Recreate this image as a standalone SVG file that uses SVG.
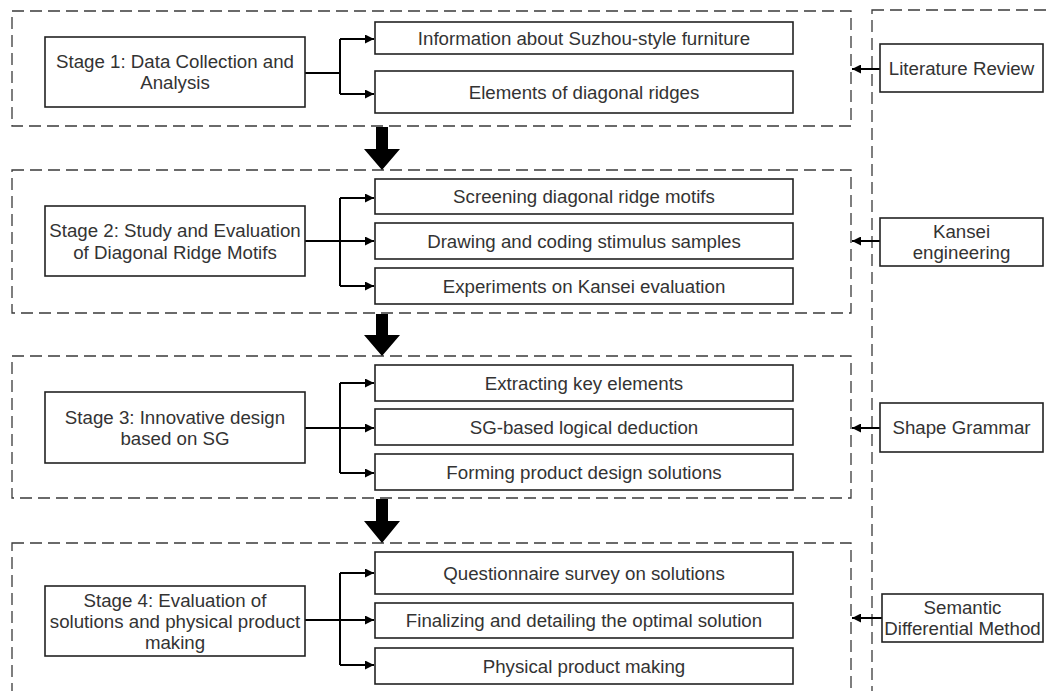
<svg xmlns="http://www.w3.org/2000/svg" width="1050" height="691" viewBox="0 0 1050 691">
<defs>
<style>
.dash{fill:none;stroke:#3a3a3a;stroke-width:1.3;stroke-dasharray:12 6}
.box{fill:#fff;stroke:#222;stroke-width:1.6}
.t{font-family:"Liberation Sans",Arial,sans-serif;font-size:18.7px;fill:#333;text-anchor:middle}
.ln{fill:none;stroke:#000;stroke-width:2}
.big{fill:#000}
</style>
<marker id="ah" viewBox="0 0 10 10" refX="10" refY="5" markerWidth="9" markerHeight="9" markerUnits="userSpaceOnUse" orient="auto">
<path d="M0,0 L10,5 L0,10 z" fill="#000"/>
</marker>
</defs>
<rect width="1050" height="691" fill="#fff"/>

<g id="frames">
<rect class="dash" x="12" y="11" width="839" height="115"/>
<rect class="dash" x="12" y="170" width="839" height="143"/>
<rect class="dash" x="12" y="356" width="839" height="142"/>
<rect class="dash" x="12" y="543" width="839" height="200"/>
<rect class="dash" x="872" y="10" width="300" height="800"/>
</g>

<g id="connectors">
<path class="ln" d="M305,73 H340 M340,39 V94 M340,39 H374" marker-end="url(#ah)"/>
<path class="ln" d="M340,94 H374" marker-end="url(#ah)"/>
<path class="ln" d="M305,241 H340 M340,198 V286 M340,198 H374" marker-end="url(#ah)"/>
<path class="ln" d="M340,241 H374" marker-end="url(#ah)"/>
<path class="ln" d="M340,286 H374" marker-end="url(#ah)"/>
<path class="ln" d="M305,428 H340 M340,383 V473 M340,383 H374" marker-end="url(#ah)"/>
<path class="ln" d="M340,428 H374" marker-end="url(#ah)"/>
<path class="ln" d="M340,473 H374" marker-end="url(#ah)"/>
<path class="ln" d="M305,620 H340 M340,573 V665 M340,573 H374" marker-end="url(#ah)"/>
<path class="ln" d="M340,620 H374" marker-end="url(#ah)"/>
<path class="ln" d="M340,665 H374" marker-end="url(#ah)"/>
<path class="ln" d="M880,69 H852" marker-end="url(#ah)"/>
<path class="ln" d="M880,241 H852" marker-end="url(#ah)"/>
<path class="ln" d="M880,428 H852" marker-end="url(#ah)"/>
<path class="ln" d="M882,618 H852" marker-end="url(#ah)"/>
<path class="big" d="M376,127 H388 V149 H400 L382,170 L364,149 H376 Z"/>
<path class="big" d="M376,314 H388 V335 H400 L382,356 L364,335 H376 Z"/>
<path class="big" d="M376,499 H388 V521 H400 L382,543 L364,521 H376 Z"/>
</g>

<g id="stage1">
<rect class="box" x="45" y="37" width="260" height="70"/>
<text class="t" x="175" y="68">Stage 1: Data Collection and</text>
<text class="t" x="175" y="89">Analysis</text>
</g>
<g id="s1a">
<rect class="box" x="375" y="22" width="418" height="32"/>
<text class="t" x="584" y="44.7">Information about Suzhou-style furniture</text>
</g>
<g id="s1b">
<rect class="box" x="375" y="71" width="418" height="42"/>
<text class="t" x="584" y="98.7">Elements of diagonal ridges</text>
</g>

<g id="stage2">
<rect class="box" x="45" y="206" width="260" height="70"/>
<text class="t" x="175" y="237">Stage 2: Study and Evaluation</text>
<text class="t" x="175" y="259">of Diagonal Ridge Motifs</text>
</g>
<g id="s2a">
<rect class="box" x="375" y="179" width="418" height="35"/>
<text class="t" x="584" y="203.2">Screening diagonal ridge motifs</text>
</g>
<g id="s2b">
<rect class="box" x="375" y="223" width="418" height="36"/>
<text class="t" x="584" y="247.7">Drawing and coding stimulus samples</text>
</g>
<g id="s2c">
<rect class="box" x="375" y="268" width="418" height="36"/>
<text class="t" x="584" y="292.7">Experiments on Kansei evaluation</text>
</g>

<g id="stage3">
<rect class="box" x="45" y="392" width="260" height="71"/>
<text class="t" x="175" y="424">Stage 3: Innovative design</text>
<text class="t" x="175" y="445">based on SG</text>
</g>
<g id="s3a">
<rect class="box" x="375" y="365" width="418" height="36"/>
<text class="t" x="584" y="389.7">Extracting key elements</text>
</g>
<g id="s3b">
<rect class="box" x="375" y="409" width="418" height="36"/>
<text class="t" x="584" y="433.7">SG-based logical deduction</text>
</g>
<g id="s3c">
<rect class="box" x="375" y="454" width="418" height="36"/>
<text class="t" x="584" y="478.7">Forming product design solutions</text>
</g>

<g id="stage4">
<rect class="box" x="45" y="586" width="260" height="70"/>
<text class="t" x="175" y="606.5">Stage 4: Evaluation of</text>
<text class="t" x="175" y="627.5">solutions and physical product</text>
<text class="t" x="175" y="648.5">making</text>
</g>
<g id="s4a">
<rect class="box" x="375" y="552" width="418" height="42"/>
<text class="t" x="584" y="579.7">Questionnaire survey on solutions</text>
</g>
<g id="s4b">
<rect class="box" x="375" y="603" width="418" height="35"/>
<text class="t" x="584" y="627.2">Finalizing and detailing the optimal solution</text>
</g>
<g id="s4c">
<rect class="box" x="375" y="648" width="418" height="36"/>
<text class="t" x="584" y="672.7">Physical product making</text>
</g>

<g id="lit">
<rect class="box" x="880" y="44" width="163" height="48"/>
<text class="t" x="961.5" y="74.7">Literature Review</text>
</g>
<g id="kansei">
<rect class="box" x="880" y="218" width="163" height="48"/>
<text class="t" x="961.5" y="238">Kansei</text>
<text class="t" x="961.5" y="259">engineering</text>
</g>
<g id="sg">
<rect class="box" x="880" y="403" width="163" height="49"/>
<text class="t" x="961.5" y="434.2">Shape Grammar</text>
</g>
<g id="sdm">
<rect class="box" x="882" y="594" width="161" height="48"/>
<text class="t" x="962.5" y="614">Semantic</text>
<text class="t" x="962.5" y="635">Differential Method</text>
</g>
</svg>
